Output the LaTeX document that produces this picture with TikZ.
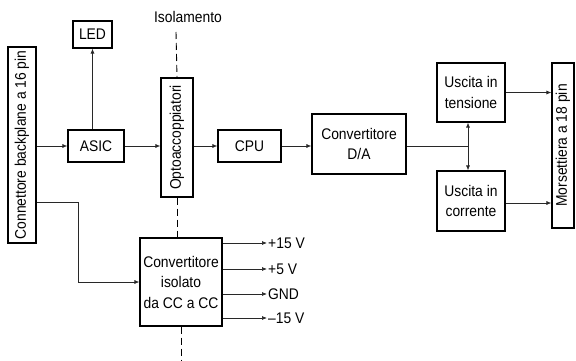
\documentclass[tikz,border=0pt]{standalone}
\usepackage{fontspec}
\setmainfont{Liberation Sans}[FakeStretch=0.9]
\usetikzlibrary{arrows.meta,calc,positioning}
\definecolor{WireGray}{RGB}{40,40,40}

\begin{document}
\begin{tikzpicture}[x=1pt,y=-1pt,>={Latex[length=5pt,width=4pt]},
    font=\fontsize{15.4}{20.5}\selectfont,
    blk/.style={draw,line width=1.1pt,align=center,inner sep=2pt},
    wire/.style={->,WireGray,line width=0.7pt},
    iso/.style={dashed,line width=0.9pt,dash pattern=on 7pt off 4pt}]
      \useasboundingbox (0,0) rectangle (576,361);
      % blocchi
      \node[blk,rotate=90,minimum width=196,minimum height=28] (conn) at (22,145) {Connettore backplane a 16 pin};
      \node[blk,minimum width=39,minimum height=27] (led) at (92.5,34.5) {LED};
      \node[blk,minimum width=56,minimum height=32] (asic) at (96,146) {ASIC};
      \node[blk,rotate=90,minimum width=119,minimum height=32] (opto) at (177,137.5) {Optoaccoppiatori};
      \node[blk,minimum width=63,minimum height=32] (cpu) at (249.5,146) {CPU};
      \node[blk,minimum width=94,minimum height=60] (da) at (359,144) {Convertitore\\D/A};
      \node[blk,minimum width=68,minimum height=59] (ut) at (471,92.5) {Uscita in\\tensione};
      \node[blk,minimum width=68,minimum height=60] (uc) at (471,201) {Uscita in\\corrente};
      \node[blk,rotate=90,minimum width=165,minimum height=22] (morse) at (563,145.5) {Morsettiera a 18 pin};
      \node[blk,minimum width=82,minimum height=88] (dcdc) at (181,282) {Convertitore\\isolato\\da CC a CC};
      % uscite alimentazione
      \node[anchor=west,inner sep=1pt] (p15) at (267,243) {+15 V};
      \node[anchor=west,inner sep=1pt] (p5) at (267,269) {+5 V};
      \node[anchor=west,inner sep=1pt] (gnd) at (267,294) {GND};
      \node[anchor=west,inner sep=1pt] (m15) at (267,318) {\textendash15 V};
      % barriera di isolamento
      \node (isol) at (188,17) {Isolamento};
      \coordinate (isotop) at (176,32);
      \coordinate (isobot) at (181,361);
      \draw[iso] (isotop) -- (opto.east);
      \draw[iso] (opto.west) -- (opto.west |- dcdc.north);
      \draw[iso] (dcdc.south) -- (isobot);
      % collegamenti
      \draw[wire] (conn.south |- asic.west) -- (asic.west);
      \draw[wire] (asic.north -| led.south) -- (led.south);
      \draw[wire] (conn.south |- 0,202) -- ++(42,0) |- (dcdc.west);
      \draw[wire] (asic.east) -- (asic.east -| opto.north);
      \draw[wire] (opto.south |- cpu.west) -- (cpu.west);
      \draw[wire] (cpu.east) -- (cpu.east -| da.west);
      \coordinate (br) at (468,146);
      \draw[WireGray,line width=0.7pt] (da.east |- br) -- (br);
      \draw[wire] (br) -- (br |- ut.south);
      \draw[wire] (br) -- (br |- uc.north);
      \draw[wire] (ut.east) -- (ut.east -| morse.north);
      \draw[wire] (uc.east |- 0,203) -- (morse.north |- 0,203);
      \foreach \v in {p15,p5,gnd,m15}
        \draw[wire] (dcdc.east |- \v.west) -- (\v.west);
    \end{tikzpicture}
\end{document}
